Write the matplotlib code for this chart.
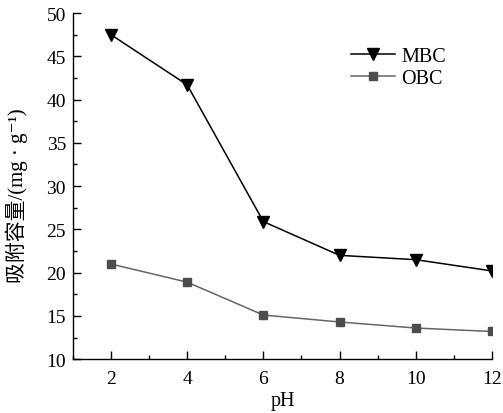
import matplotlib
matplotlib.use('Agg')
import matplotlib.pyplot as plt
from matplotlib.ticker import MultipleLocator

ph = [2, 4, 6, 8, 10, 12]
mbc = [47.5, 41.7, 25.9, 22.0, 21.5, 20.2]
obc = [21.0, 18.9, 15.1, 14.3, 13.6, 13.2]

plt.rcParams['font.family'] = ['Liberation Serif', 'Noto Sans CJK SC', 'DejaVu Sans']

fig = plt.figure(figsize=(5.03, 4.14), dpi=100)
ax = fig.add_axes([0.145, 0.130, 0.833, 0.836])

ax.plot(ph, mbc, color='black', lw=1.1, marker='v', ms=8, label='MBC')
ax.plot(ph, obc, color='#666666', lw=1.1, marker='s', ms=6,
        mfc='#4d4d4d', mec='#4d4d4d', label='OBC')

ax.set_xlim(1, 12)
ax.set_ylim(10, 50)
ax.xaxis.set_major_locator(MultipleLocator(2))
ax.xaxis.set_minor_locator(MultipleLocator(1))
ax.yaxis.set_major_locator(MultipleLocator(5))
ax.yaxis.set_minor_locator(MultipleLocator(2.5))
ax.tick_params(which='both', direction='in', labelsize=14, width=1)
ax.tick_params(which='major', length=6)
ax.tick_params(which='minor', length=3)
ax.tick_params(axis='x', pad=8)
ax.tick_params(axis='y', pad=5)
for s in ['top', 'right']:
    ax.spines[s].set_visible(False)
for s in ['left', 'bottom']:
    ax.spines[s].set_linewidth(1.0)

ax.set_xlabel('pH', fontsize=14.5, labelpad=3)
ax.set_ylabel('吸附容量/(mg · g⁻¹)', fontsize=15)
ax.yaxis.set_label_coords(-0.107, 0.475)

ax.legend(loc='upper left', bbox_to_anchor=(0.62, 0.955), frameon=False,
          fontsize=14.5, handlelength=2.2, handletextpad=0.3, labelspacing=0.15)

fig.savefig('out.png', dpi=100)
